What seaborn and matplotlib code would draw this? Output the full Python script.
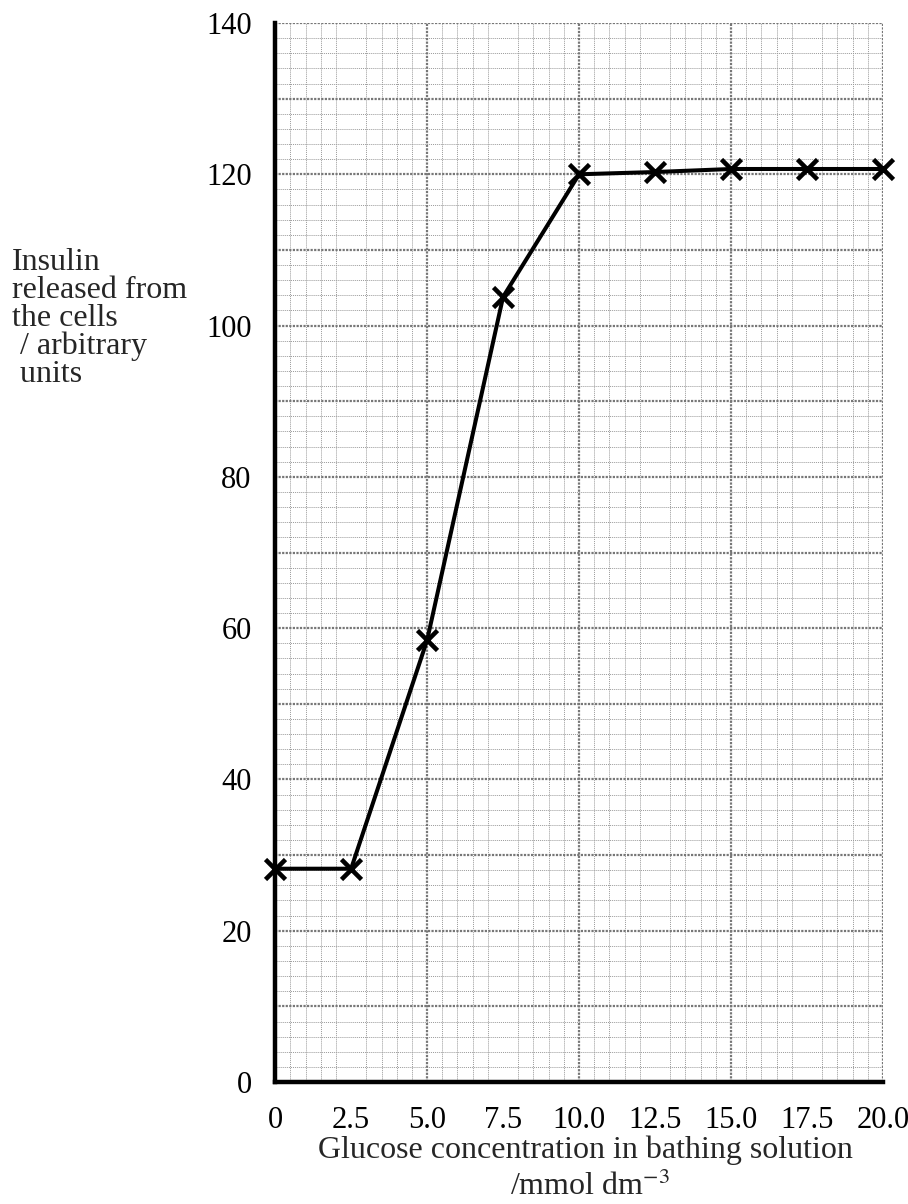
import numpy as np
import pandas as pd
import matplotlib
matplotlib.use("Agg")
import matplotlib.pyplot as plt
from matplotlib.ticker import MultipleLocator
import seaborn as sns

glucose = [0, 2.5, 5.0, 7.5, 10.0, 12.5, 15.0, 17.5, 20.0]
insulin = [28.2, 28.2, 58.4, 103.8, 120.0, 120.3, 120.7, 120.7, 120.7]
x_ticks = [0, 2.5, 5.0, 7.5, 10.0, 12.5, 15.0, 17.5, 20.0]
x_tick_labels = ["0", "2.5", "5.0", "7.5", "10.0", "12.5", "15.0", "17.5", "20.0"]
y_ticks = [0, 10, 20, 30, 40, 50, 60, 70, 80, 90, 100, 110, 120, 130, 140]
y_tick_labels = ["0", "", "20", "", "40", "", "60", "", "80", "", "100", "", "120", "", "140"]

sns.set_style("white")
plt.rcParams['font.family'] = ['Liberation Serif', 'DejaVu Serif']
plt.rcParams['mathtext.fontset'] = 'stix'

fig = plt.figure(figsize=(9.08, 12.04), dpi=100)
ax = fig.add_axes([0.303, 0.1013, 0.6695, 0.8796])

df = pd.DataFrame({"glucose": glucose, "insulin": insulin})

ax.set_xlim(0, 20)
ax.set_ylim(0, 140)

# fine graph-paper grid
ax.xaxis.set_minor_locator(MultipleLocator(0.5))
ax.yaxis.set_minor_locator(MultipleLocator(2))
ax.grid(which='minor', color='#9a9a9a', linewidth=0.7, linestyle=(0, (1, 1)))
ax.grid(which='major', visible=False)
for xv in np.arange(5, 20.01, 5):
    ax.axvline(xv, color='#777777', linewidth=1.6, linestyle=(0, (1, 0.6)), zorder=0.6)
for yv in np.arange(10, 140.01, 10):
    ax.axhline(yv, color='#777777', linewidth=1.6, linestyle=(0, (1, 0.6)), zorder=0.6)

sns.lineplot(data=df, x="glucose", y="insulin", ax=ax, color='black', linewidth=2.9,
             marker='x', markersize=14, markeredgewidth=3.3, markeredgecolor='black',
             clip_on=False, zorder=5)

ax.set_xticks(x_ticks)
ax.set_xticklabels(x_tick_labels)
ax.set_yticks(y_ticks)
ax.set_yticklabels(y_tick_labels)
ax.xaxis.set_minor_locator(MultipleLocator(0.5))
ax.yaxis.set_minor_locator(MultipleLocator(2))

ax.tick_params(axis='both', which='major', direction='out', length=13, width=1.4,
               labelsize=22, colors='black', pad=4)
ax.tick_params(axis='both', which='minor', length=0)

for s in ['top', 'right']:
    ax.spines[s].set_visible(False)
ax.spines['left'].set_linewidth(3.2)
ax.spines['bottom'].set_linewidth(3.2)
ax.spines['left'].set_color('black')
ax.spines['bottom'].set_color('black')

ax.set_xlabel("")
ax.set_ylabel("")

fig.text(0.6445, 0.0382, "Glucose concentration in bathing solution",
         ha='center', va='baseline', fontsize=23)
fig.text(0.6495, 0.0075, r"/mmol dm$^{-3}$", ha='center', va='baseline', fontsize=23)

fig.text(0.013, 0.794, "Insulin\nreleased from\nthe cells\n / arbitrary\n units",
         ha='left', va='top', fontsize=23, linespacing=0.95)

fig.savefig("out.png", dpi=100, facecolor='white')
